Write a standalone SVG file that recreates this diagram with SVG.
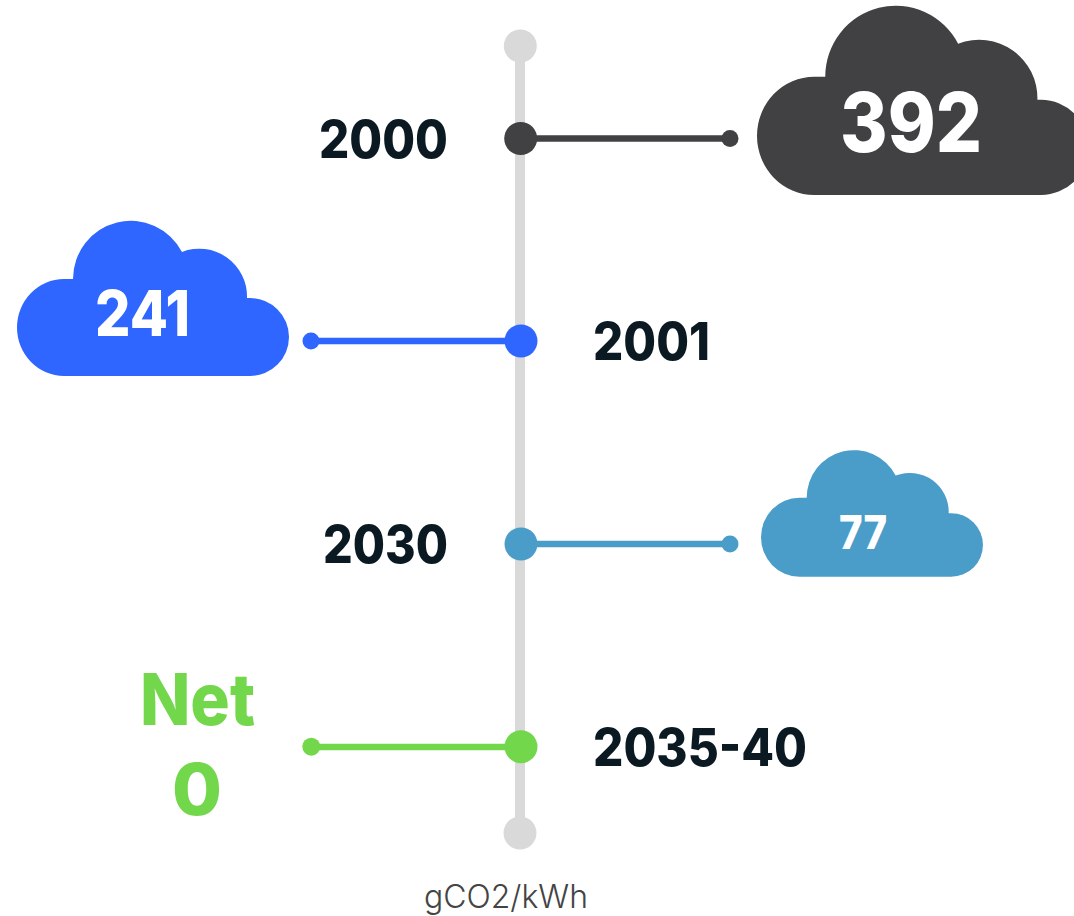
<svg xmlns="http://www.w3.org/2000/svg" width="1074" height="916" viewBox="0 0 1074 916">
<style>
text{font-family:"Inter","Liberation Sans",sans-serif;font-weight:800}
.year{font-size:52px;fill:#0b1a22}
.val{fill:#fff}
.net{font-size:72px;fill:#72d74b}
.unit{font-size:32px;font-weight:300;fill:#444}
.track{stroke:#d9d9d9;stroke-width:10;fill:none}
.link{stroke-width:6.500;fill:none}
</style>
<defs>
<path id="cloud" d="M64 376A47 48.500 0 0 1 64 279L73 279A57.800 58.200 0 0 1 182 252A47.700 47.700 0 0 1 247 298L250 298A39 39 0 0 1 250 376Z"/>
</defs>
<rect width="1074" height="916" fill="#fff"/>
<g id="connectors">
<line class="track" x1="520" y1="46" x2="520" y2="833"/>
<line class="link" x1="520" y1="138.500" x2="730" y2="138.500" stroke="#414042"/>
<line class="link" x1="520" y1="341" x2="311" y2="341" stroke="#2f66ff"/>
<line class="link" x1="520" y1="544" x2="730" y2="544" stroke="#4a9dc8"/>
<line class="link" x1="520" y1="747" x2="311" y2="747" stroke="#72d74b"/>
</g>
<g id="track-start"><circle cx="520.300" cy="46" r="16.500" fill="#d9d9d9"/></g>
<g id="track-end"><circle cx="520" cy="833" r="16.500" fill="#d9d9d9"/></g>
<g id="node-2000">
<circle cx="520.700" cy="138.500" r="16.500" fill="#414042"/>
<circle cx="730" cy="138.500" r="8.500" fill="#414042"/>
<text class="year" x="319" y="158" textLength="129" lengthAdjust="spacingAndGlyphs">2000</text>
<use href="#cloud" fill="#414042" transform="translate(757 6) scale(1.219) translate(-17 -221)"/>
<text class="val" x="840" y="152" font-size="82" textLength="142" lengthAdjust="spacingAndGlyphs">392</text>
</g>
<g id="node-2001">
<circle cx="521" cy="341" r="16.500" fill="#2f66ff"/>
<circle cx="311" cy="341" r="8.500" fill="#2f66ff"/>
<text class="year" x="593" y="360" textLength="117" lengthAdjust="spacingAndGlyphs">2001</text>
<use href="#cloud" fill="#2f66ff"/>
<text class="val" x="95" y="336" font-size="63" textLength="95" lengthAdjust="spacingAndGlyphs">241</text>
</g>
<g id="node-2030">
<circle cx="521" cy="544" r="16.500" fill="#4a9dc8"/>
<circle cx="730" cy="544" r="8.500" fill="#4a9dc8"/>
<text class="year" x="323" y="563" textLength="125" lengthAdjust="spacingAndGlyphs">2030</text>
<use href="#cloud" fill="#4a9dc8" transform="translate(761 450.300) scale(0.816) translate(-17 -221)"/>
<text class="val" x="839" y="549" font-size="47" textLength="48" lengthAdjust="spacingAndGlyphs">77</text>
</g>
<g id="node-2035">
<circle cx="521" cy="746.700" r="16.500" fill="#72d74b"/>
<circle cx="311.300" cy="746.700" r="9" fill="#72d74b"/>
<text class="year" x="593" y="766" textLength="214" lengthAdjust="spacingAndGlyphs">2035-40</text>
<text class="net" x="140" y="725" textLength="115" lengthAdjust="spacingAndGlyphs">Net</text>
<text class="net" x="172" y="815" textLength="50" lengthAdjust="spacingAndGlyphs">0</text>
</g>
<text class="unit" x="424" y="908" textLength="164" lengthAdjust="spacingAndGlyphs">gCO2/kWh</text>
</svg>
